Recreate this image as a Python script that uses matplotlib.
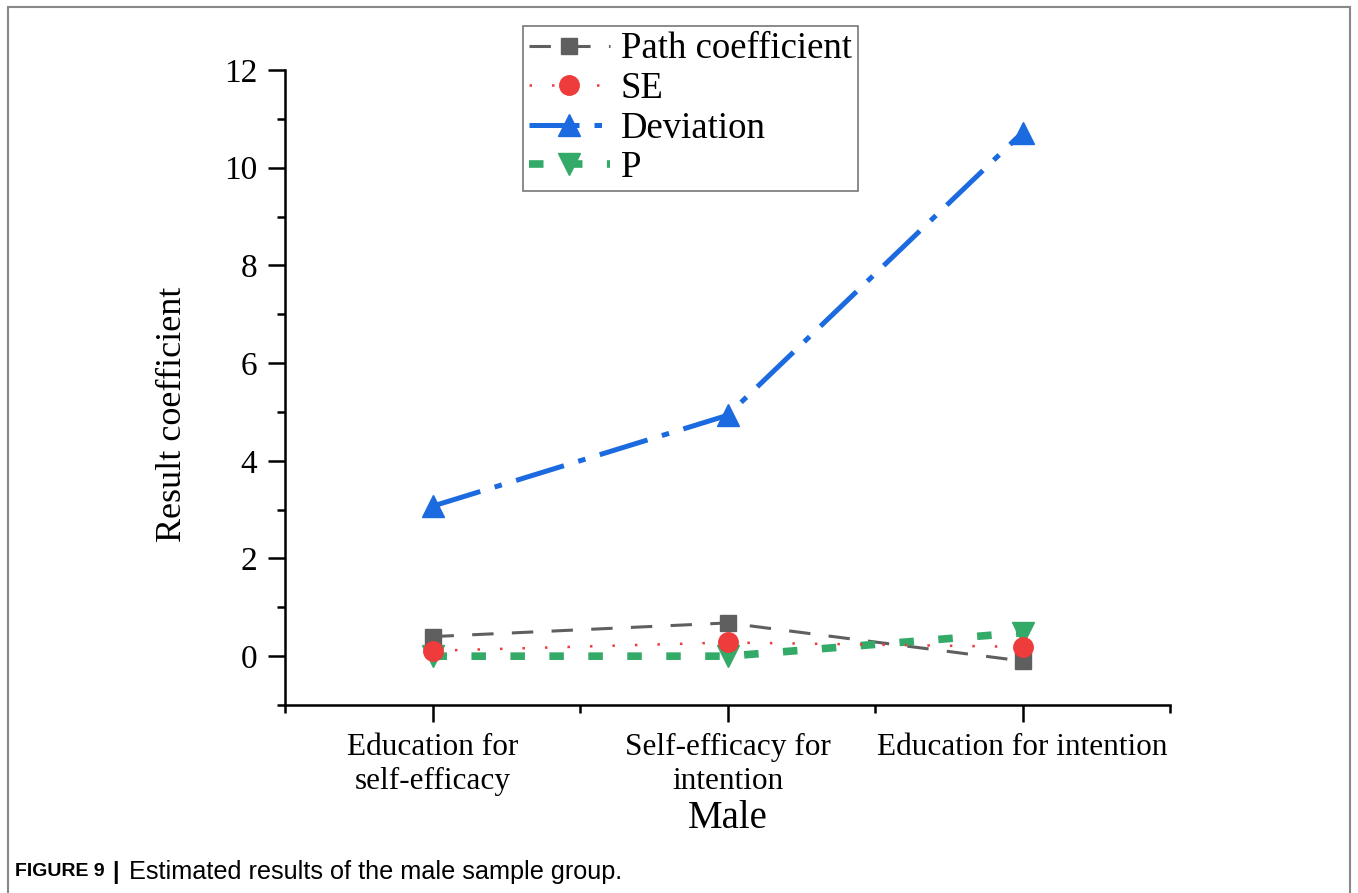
import matplotlib
matplotlib.use("Agg")
import matplotlib.pyplot as plt
from matplotlib.patches import Rectangle
from matplotlib.ticker import FixedLocator

categories = ["Education for\nself-efficacy", "Self-efficacy for\nintention", "Education for intention"]
path_coef = [0.40, 0.68, -0.10]
se_vals = [0.11, 0.28, 0.19]
deviation = [3.07, 4.93, 10.72]
p_vals = [0.00, 0.00, 0.48]
yticks = [0, 2, 4, 6, 8, 10, 12]

plt.rcParams['font.family'] = ['Liberation Serif', 'DejaVu Serif']

W, H = 1358, 893
fig = plt.figure(figsize=(W / 100, H / 100), dpi=100)
ax = fig.add_axes([285 / W, 1 - 705 / H, (1170 - 285) / W, (705 - 70) / H])

x = list(range(len(categories)))

ax.plot(x, path_coef, color='#5f5f5f', lw=2.2, dashes=(7, 6), marker='s', ms=12,
        label='Path coefficient', zorder=3)
ax.plot(x, se_vals, color='#ee3b3b', lw=1.8, dashes=(1, 8), marker='o', ms=14,
        label='SE', zorder=4)
ax.plot(x, deviation, color='#1b6ae0', lw=3.6, dashes=(10, 3, 1.5, 3), marker='^', ms=16,
        label='Deviation', zorder=3)
ax.plot(x, p_vals, color='#34aa68', lw=5.5, dashes=(1.9, 3.2), marker='v', ms=16,
        label='P', zorder=3)

ax.set_xlim(-0.5, 2.5)
ax.set_ylim(-1, 12)
ax.set_xticks(x)
ax.set_xticklabels(categories, fontsize=22.5, linespacing=1.25)
ax.xaxis.set_minor_locator(FixedLocator([-0.5, 0.5, 1.5, 2.5]))
ax.set_yticks(yticks)
ax.set_yticklabels([str(v) for v in yticks], fontsize=24)
ax.yaxis.set_minor_locator(FixedLocator([-1, 1, 3, 5, 7, 9, 11]))

ax.tick_params(which='major', direction='out', length=12, width=1.8, pad=8)
ax.tick_params(which='minor', direction='out', length=6, width=1.8)

for s in ['top', 'right']:
    ax.spines[s].set_visible(False)
for s in ['left', 'bottom']:
    ax.spines[s].set_linewidth(1.8)

ax.set_ylabel('Result coefficient', fontsize=26)
ax.yaxis.set_label_coords(-0.108, 0.458)
ax.set_xlabel('Male', fontsize=28, labelpad=3)

leg = fig.legend(loc='upper left', bbox_to_anchor=(523 / W, 1 - 26 / H), borderaxespad=0,
                 fontsize=26.5, frameon=True, fancybox=False, handlelength=2.2,
                 handletextpad=0.3, labelspacing=0.14, borderpad=0.16)
leg.get_frame().set_edgecolor('#555555')
leg.get_frame().set_linewidth(1.2)

fig.patches.append(Rectangle((8 / W, -0.02), (1350 - 8) / W, 1.02 - 7 / H,
                             transform=fig.transFigure, fill=False,
                             edgecolor='#888888', lw=1.5))

fig.text(15 / W, 1 - 872 / H, 'FIGURE 9', fontsize=14, fontweight='bold',
         family=['Liberation Sans'], va='center', ha='left')
fig.text(112 / W, 1 - 872 / H, '|', fontsize=17, fontweight='bold',
         family=['Liberation Sans'], va='center', ha='left')
fig.text(129 / W, 1 - 872 / H, 'Estimated results of the male sample group.', fontsize=18.2,
         family=['Liberation Sans'], va='center', ha='left')

fig.savefig('out.png', dpi=100)
